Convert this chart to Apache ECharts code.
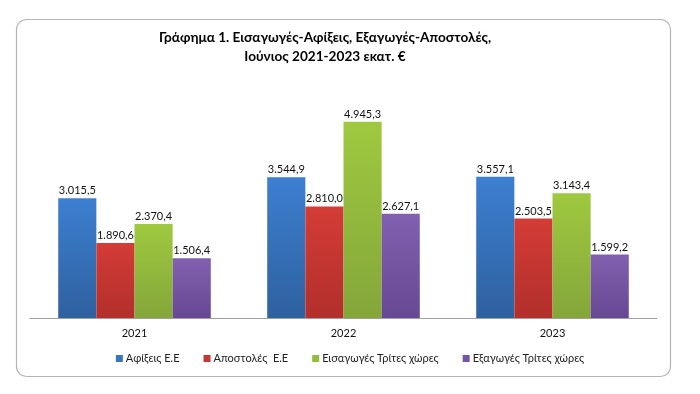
<!DOCTYPE html>
<html><head><meta charset="utf-8">
<script src="https://cdn.jsdelivr.net/npm/echarts@6/dist/echarts.min.js"></script>
<style>html,body{margin:0;padding:0;background:#fff}#c{width:700px;height:394px}</style>
</head><body><div id="c"></div>
<script>
const categories = ['2021', '2022', '2023'];
const seriesNames = ['Αφίξεις Ε.Ε', 'Αποστολές  Ε.Ε', 'Εισαγωγές Τρίτες χώρες', 'Εξαγωγές Τρίτες χώρες'];
const afixeis = [3015.5, 3544.9, 3557.1];
const apostoles = [1890.6, 2810.0, 2503.5];
const eisagoges = [2370.4, 4945.3, 3143.4];
const exagoges = [1506.4, 2627.1, 1599.2];
const seriesData = [afixeis, apostoles, eisagoges, exagoges];
const colorsTop = ['#3d7fd1', '#d43c37', '#9fc93f', '#8260b0'];
const colorsBot = ['#2e619f', '#b22f2b', '#84a63a', '#674893'];
const legendColors = ['#3a75c0', '#c43733', '#93bb3d', '#7656a2'];

function fmt(v){
  const parts = v.toFixed(1).split('.');
  const intp = parts[0].replace(/\B(?=(\d{3})+(?!\d))/g, '.');
  return intp + ',' + parts[1];
}
const font = 'Lato, "Open Sans", sans-serif';
const chart = echarts.init(document.getElementById('c'));
chart.setOption({
  animation: false,
  title: {
    text: 'Γράφημα 1. Εισαγωγές-Αφίξεις, Εξαγωγές-Αποστολές,\nΙούνιος 2021-2023 εκατ. €',
    left: 320, top: 23, textAlign: 'center',
    textStyle: {fontFamily: font, fontSize: 13.6, fontWeight: 'bold', color: '#000', lineHeight: 19}
  },
  graphic: [{
    type: 'rect', shape: {x: 16.5, y: 19.5, width: 654, height: 357, r: 10},
    style: {fill: 'none', stroke: '#b5b5b5', lineWidth: 1.2}, z: -1
  }],
  legend: {
    bottom: 25, left: 'center', itemWidth: 7, itemHeight: 7, itemGap: 24,
    icon: 'rect',
    textStyle: {fontFamily: font, fontSize: 11, color: '#222', padding: [0,0,0,-2]},
    data: seriesNames.map((n, i) => ({name: n, itemStyle: {color: legendColors[i]}}))
  },
  grid: {left: 30, right: 43, top: 119.5, bottom: 76},
  xAxis: {
    type: 'category', data: categories,
    axisLine: {lineStyle: {color: '#a0a0a0'}},
    axisTick: {show: false},
    axisLabel: {fontFamily: font, fontSize: 11, color: '#111', margin: 10}
  },
  yAxis: {type: 'value', min: 0, max: 5000, show: false, splitLine: {show: false}},
  series: seriesData.map((d, i) => ({
    name: seriesNames[i], type: 'bar', data: d,
    barGap: '0%', barCategoryGap: '27%',
    itemStyle: {color: new echarts.graphic.LinearGradient(0, 0, 0, 1, [
      {offset: 0, color: colorsTop[i]}, {offset: 1, color: colorsBot[i]}])},
    label: {show: true, position: 'top', distance: 2, formatter: p => fmt(p.value),
      fontFamily: font, fontSize: 11, color: '#111'}
  }))
});
</script></body></html>
